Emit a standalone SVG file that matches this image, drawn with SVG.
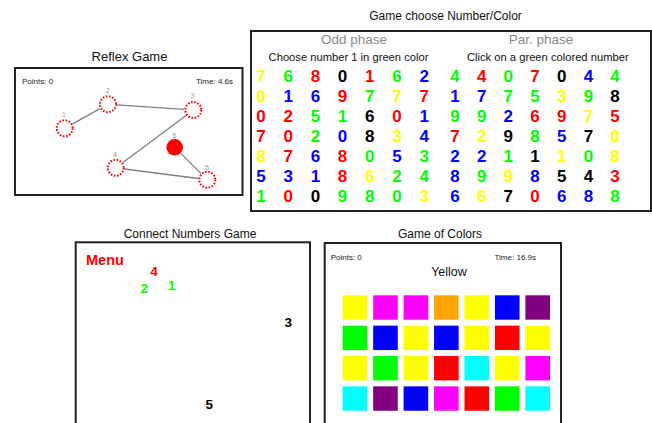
<svg xmlns="http://www.w3.org/2000/svg" width="652" height="423" viewBox="0 0 652 423">
  <style>
    text { font-family: "Liberation Sans", Arial, sans-serif; }
    .title { font-size: 12px; fill: #111; text-anchor: middle; }
    .panel { fill: #fff; stroke: #222; stroke-width: 2; }
    .hud { font-size: 8px; fill: #222; }
    .lbl { font-size: 7px; fill: #999; text-anchor: middle; }
    .ring { fill: none; stroke: #ff0000; stroke-width: 2; stroke-dasharray: 1.6 1.6; }
    .edge { stroke: #808080; stroke-width: 1.3; }
    .phase { font-size: 13.5px; fill: #8a8a8a; text-anchor: middle; }
    .hint { font-size: 11.2px; fill: #111; text-anchor: middle; }
    .d { font-size: 17px; font-weight: bold; text-anchor: middle; }
    .Y { fill: #ffff00; } .G { fill: #00ff00; } .R { fill: #ff0000; } .K { fill: #000; } .B { fill: #0000ff; }
    .cn { font-size: 13.5px; font-weight: bold; text-anchor: middle; }
    .tile { stroke: none; }
  </style>

  <!-- Reflex Game -->
  <g id="reflex-game">
    <text class="title" x="129.5" y="61" style="font-size:13px">Reflex Game</text>
    <rect class="panel" x="15" y="68" width="227.5" height="127"/>
    <text class="hud" x="22" y="83.5">Points: 0</text>
    <text class="hud" x="233" y="83.5" text-anchor="end">Time: 4.6s</text>
  </g>
  <g id="reflex-edges">
    <line class="edge" x1="72.6" y1="123.9" x2="100.1" y2="108.6"/>
    <line class="edge" x1="117" y1="104.8" x2="184.3" y2="109.4"/>
    <line class="edge" x1="186.1" y1="115.4" x2="122.9" y2="162.4"/>
    <line class="edge" x1="124.6" y1="169" x2="198.4" y2="178.5"/>
    <line class="edge" x1="181.1" y1="153.6" x2="200.9" y2="173.4"/>
  </g>
  <g id="target-1"><circle class="ring" cx="64.7" cy="128.3" r="8"/><text class="lbl" x="64" y="117">1</text></g>
  <g id="target-2"><circle class="ring" cx="108" cy="104.2" r="8"/><text class="lbl" x="107.7" y="92.5">2</text></g>
  <g id="target-3"><circle class="ring" cx="193.3" cy="110" r="8"/><text class="lbl" x="192.5" y="97.5">3</text></g>
  <g id="target-4"><circle class="ring" cx="115.7" cy="167.8" r="8"/><text class="lbl" x="115" y="156.5">4</text></g>
  <g id="target-5"><circle class="ring" cx="207.3" cy="179.7" r="8"/><text class="lbl" x="207" y="170">5</text></g>
  <g id="target-6"><circle cx="174.7" cy="147.3" r="8.3" fill="#ff0000"/><text class="lbl" x="174.3" y="137.5">6</text></g>

  <!-- Game choose Number/Color -->
  <g id="number-color-game">
    <text class="title" x="445.5" y="20">Game choose Number/Color</text>
    <rect class="panel" x="251" y="31" width="400" height="180"/>
    <text class="phase" x="354" y="44.3">Odd phase</text>
    <text class="phase" x="541" y="44.3">Par. phase</text>
    <text class="hint" x="348.5" y="60.7">Choose number 1 in green color</text>
    <text class="hint" x="547.8" y="60.7">Click on a green colored number</text>
  </g>
  <g id="odd-grid" class="d">
    <!-- columns x: 261 + 27.2*i ; rows y: 82 + 20*j -->
    <text x="261" y="82" class="Y">7</text><text x="288.2" y="82" class="G">6</text><text x="315.4" y="82" class="R">8</text><text x="342.6" y="82" class="K">0</text><text x="369.8" y="82" class="R">1</text><text x="397" y="82" class="G">6</text><text x="424.2" y="82" class="B">2</text>
    <text x="261" y="102" class="Y">0</text><text x="288.2" y="102" class="B">1</text><text x="315.4" y="102" class="B">6</text><text x="342.6" y="102" class="R">9</text><text x="369.8" y="102" class="G">7</text><text x="397" y="102" class="Y">7</text><text x="424.2" y="102" class="R">7</text>
    <text x="261" y="122" class="R">0</text><text x="288.2" y="122" class="R">2</text><text x="315.4" y="122" class="G">5</text><text x="342.6" y="122" class="G">1</text><text x="369.8" y="122" class="K">6</text><text x="397" y="122" class="R">0</text><text x="424.2" y="122" class="B">1</text>
    <text x="261" y="142" class="R">7</text><text x="288.2" y="142" class="R">0</text><text x="315.4" y="142" class="G">2</text><text x="342.6" y="142" class="B">0</text><text x="369.8" y="142" class="K">8</text><text x="397" y="142" class="Y">3</text><text x="424.2" y="142" class="B">4</text>
    <text x="261" y="162" class="Y">8</text><text x="288.2" y="162" class="R">7</text><text x="315.4" y="162" class="B">6</text><text x="342.6" y="162" class="R">8</text><text x="369.8" y="162" class="G">0</text><text x="397" y="162" class="B">5</text><text x="424.2" y="162" class="G">3</text>
    <text x="261" y="182" class="B">5</text><text x="288.2" y="182" class="B">3</text><text x="315.4" y="182" class="B">1</text><text x="342.6" y="182" class="R">8</text><text x="369.8" y="182" class="Y">6</text><text x="397" y="182" class="G">2</text><text x="424.2" y="182" class="G">4</text>
    <text x="261" y="202" class="G">1</text><text x="288.2" y="202" class="R">0</text><text x="315.4" y="202" class="K">0</text><text x="342.6" y="202" class="G">9</text><text x="369.8" y="202" class="G">8</text><text x="397" y="202" class="G">0</text><text x="424.2" y="202" class="Y">3</text>
  </g>
  <g id="par-grid" class="d">
    <!-- columns x: 455 + 26.67*i -->
    <text x="455" y="82" class="G">4</text><text x="481.7" y="82" class="R">4</text><text x="508.3" y="82" class="G">0</text><text x="535" y="82" class="R">7</text><text x="561.7" y="82" class="K">0</text><text x="588.4" y="82" class="B">4</text><text x="615" y="82" class="G">4</text>
    <text x="455" y="102" class="B">1</text><text x="481.7" y="102" class="B">7</text><text x="508.3" y="102" class="G">7</text><text x="535" y="102" class="G">5</text><text x="561.7" y="102" class="Y">3</text><text x="588.4" y="102" class="G">9</text><text x="615" y="102" class="K">8</text>
    <text x="455" y="122" class="G">9</text><text x="481.7" y="122" class="G">9</text><text x="508.3" y="122" class="B">2</text><text x="535" y="122" class="R">6</text><text x="561.7" y="122" class="R">9</text><text x="588.4" y="122" class="Y">7</text><text x="615" y="122" class="R">5</text>
    <text x="455" y="142" class="R">7</text><text x="481.7" y="142" class="Y">2</text><text x="508.3" y="142" class="K">9</text><text x="535" y="142" class="G">8</text><text x="561.7" y="142" class="B">5</text><text x="588.4" y="142" class="K">7</text><text x="615" y="142" class="Y">0</text>
    <text x="455" y="162" class="B">2</text><text x="481.7" y="162" class="B">2</text><text x="508.3" y="162" class="G">1</text><text x="535" y="162" class="K">1</text><text x="561.7" y="162" class="Y">1</text><text x="588.4" y="162" class="G">0</text><text x="615" y="162" class="Y">8</text>
    <text x="455" y="182" class="B">8</text><text x="481.7" y="182" class="G">9</text><text x="508.3" y="182" class="Y">9</text><text x="535" y="182" class="B">8</text><text x="561.7" y="182" class="K">5</text><text x="588.4" y="182" class="K">4</text><text x="615" y="182" class="R">3</text>
    <text x="455" y="202" class="B">6</text><text x="481.7" y="202" class="Y">6</text><text x="508.3" y="202" class="K">7</text><text x="535" y="202" class="R">0</text><text x="561.7" y="202" class="B">6</text><text x="588.4" y="202" class="B">8</text><text x="615" y="202" class="G">8</text>
  </g>

  <!-- Connect Numbers Game -->
  <g id="connect-numbers-game">
    <text class="title" x="190" y="237.5">Connect Numbers Game</text>
    <rect class="panel" x="75.7" y="242.3" width="234.3" height="200"/>
    <text x="86" y="264.5" style="font-size:14.5px;font-weight:bold" fill="#ff0000">Menu</text>
    <text class="cn R" x="154" y="275.7">4</text>
    <text class="cn G" x="144.3" y="293.3">2</text>
    <text class="cn G" x="171.7" y="290">1</text>
    <text class="cn K" x="288.3" y="326.7">3</text>
    <text class="cn K" x="209.3" y="409">5</text>
  </g>

  <!-- Game of Colors -->
  <g id="game-of-colors">
    <text class="title" x="440" y="237.5">Game of Colors</text>
    <rect class="panel" x="324.7" y="243" width="236.3" height="200"/>
    <text class="hud" x="330.7" y="260">Points: 0</text>
    <text class="hud" x="536" y="260" text-anchor="end">Time: 16.9s</text>
    <text x="449" y="275.7" text-anchor="middle" style="font-size:12.5px" fill="#111">Yellow</text>
  </g>
  <g id="color-tiles" class="tile">
    <!-- columns x: 342.7 + 30.45*i ; rows y: 295.3 + 30.35*j ; size 24.6 -->
    <rect x="342.7" y="295.3" width="24.6" height="24.4" fill="#ffff00"/>
    <rect x="373.15" y="295.3" width="24.6" height="24.4" fill="#ff00ff"/>
    <rect x="403.6" y="295.3" width="24.6" height="24.4" fill="#ff00ff"/>
    <rect x="434.05" y="295.3" width="24.6" height="24.4" fill="#ffa500"/>
    <rect x="464.5" y="295.3" width="24.6" height="24.4" fill="#ffff00"/>
    <rect x="494.95" y="295.3" width="24.6" height="24.4" fill="#0000ff"/>
    <rect x="525.4" y="295.3" width="24.6" height="24.4" fill="#800080"/>

    <rect x="342.7" y="325.65" width="24.6" height="24.4" fill="#00ff00"/>
    <rect x="373.15" y="325.65" width="24.6" height="24.4" fill="#0000ff"/>
    <rect x="403.6" y="325.65" width="24.6" height="24.4" fill="#ffff00"/>
    <rect x="434.05" y="325.65" width="24.6" height="24.4" fill="#0000ff"/>
    <rect x="464.5" y="325.65" width="24.6" height="24.4" fill="#ffff00"/>
    <rect x="494.95" y="325.65" width="24.6" height="24.4" fill="#ff0000"/>
    <rect x="525.4" y="325.65" width="24.6" height="24.4" fill="#ffff00"/>

    <rect x="342.7" y="356" width="24.6" height="24.4" fill="#ffff00"/>
    <rect x="373.15" y="356" width="24.6" height="24.4" fill="#00ff00"/>
    <rect x="403.6" y="356" width="24.6" height="24.4" fill="#ffff00"/>
    <rect x="434.05" y="356" width="24.6" height="24.4" fill="#ff0000"/>
    <rect x="464.5" y="356" width="24.6" height="24.4" fill="#00ffff"/>
    <rect x="494.95" y="356" width="24.6" height="24.4" fill="#ffff00"/>
    <rect x="525.4" y="356" width="24.6" height="24.4" fill="#ff00ff"/>

    <rect x="342.7" y="386.35" width="24.6" height="24.4" fill="#00ffff"/>
    <rect x="373.15" y="386.35" width="24.6" height="24.4" fill="#800080"/>
    <rect x="403.6" y="386.35" width="24.6" height="24.4" fill="#0000ff"/>
    <rect x="434.05" y="386.35" width="24.6" height="24.4" fill="#ff00ff"/>
    <rect x="464.5" y="386.35" width="24.6" height="24.4" fill="#ff0000"/>
    <rect x="494.95" y="386.35" width="24.6" height="24.4" fill="#00ff00"/>
    <rect x="525.4" y="386.35" width="24.6" height="24.4" fill="#00ffff"/>
  </g>
</svg>
